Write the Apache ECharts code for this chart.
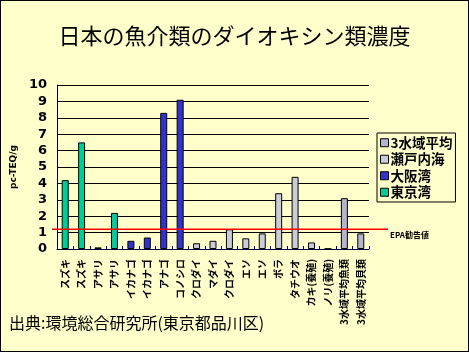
<!DOCTYPE html>
<html>
<head>
<meta charset="utf-8">
<script src="https://cdn.jsdelivr.net/npm/echarts@6/dist/echarts.min.js"></script>
<style>
  html, body { margin: 0; padding: 0; }
  #main { width: 467px; height: 350px; border: 1px solid #000; background: #FFFFCC; }
</style>
</head>
<body>
<div id="main"></div>
<script>
// 魚種ごとの濃度 (pg-TEQ/g)
var categories = ['スズキ', 'スズキ', 'アサリ', 'アサリ', 'イカナゴ', 'イカナゴ', 'アナゴ', 'コノシロ',
  'クロダイ', 'マダイ', 'クロダイ', 'エソ', 'エソ', 'ボラ', 'タチウオ', 'カキ(養殖)', 'ノリ(養殖)',
  '3水域平均魚類', '3水域平均貝類'];
var values = [4.2, 6.5, 0.1, 2.2, 0.5, 0.7, 8.3, 9.1,
  0.35, 0.5, 1.2, 0.65, 0.95, 3.4, 4.4, 0.4, 0.02,
  3.1, 0.95];
var regions = ['東京湾', '東京湾', '東京湾', '東京湾', '大阪湾', '大阪湾', '大阪湾', '大阪湾',
  '瀬戸内海', '瀬戸内海', '瀬戸内海', '瀬戸内海', '瀬戸内海', '瀬戸内海', '瀬戸内海', '瀬戸内海', '瀬戸内海',
  '3水域平均', '3水域平均'];
var regionNames = ['3水域平均', '瀬戸内海', '大阪湾', '東京湾'];
var regionColors = { '3水域平均': '#B4B4CC', '瀬戸内海': '#CCCCD8', '大阪湾': '#3333CC', '東京湾': '#00CC99' };
var epaLimit = 1.2;

var jp = '"Noto Sans CJK JP", sans-serif';

var series = ['東京湾', '大阪湾', '瀬戸内海', '3水域平均'].map(function (r) {
  return {
    name: r,
    type: 'bar',
    barWidth: 7,
    barGap: '-100%',
    itemStyle: { color: regionColors[r], borderColor: '#000', borderWidth: 1 },
    data: values.map(function (v, i) { return regions[i] === r ? v : null; })
  };
});

var chart = echarts.init(document.getElementById('main'));
var option = {
  backgroundColor: '#FFFFCC',
  animation: false,
  title: {
    text: '日本の魚介類のダイオキシン類濃度',
    left: 'center',
    top: 19,
    textStyle: { fontFamily: jp, fontSize: 22, fontWeight: 'normal', color: '#000' }
  },
  legend: {
    orient: 'vertical',
    left: 376,
    top: 132,
    data: regionNames,
    backgroundColor: '#FFFFCC',
    borderColor: '#000',
    borderWidth: 1,
    borderRadius: 0,
    padding: [3, 3, 3, 3],
    itemGap: 3,
    itemWidth: 8,
    itemHeight: 8,
    icon: 'rect',
    itemStyle: { borderColor: '#000', borderWidth: 1 },
    textStyle: { fontFamily: jp, fontSize: 13.5, fontWeight: 'bold', color: '#000', padding: [0, 0, 0, -3] }
  },
  grid: { left: 55, right: 99, top: 84, bottom: 102 },
  xAxis: {
    type: 'category',
    data: categories,
    axisLine: { lineStyle: { color: '#000033', width: 1 } },
    axisTick: { show: true, inside: true, length: 3, lineStyle: { color: '#0000AA' } },
    axisLabel: {
      rotate: 90,
      interval: 0,
      margin: 10,
      fontFamily: jp,
      fontSize: 10,
      fontWeight: 'bold',
      color: '#000'
    }
  },
  yAxis: {
    type: 'value',
    min: 0,
    max: 10,
    interval: 1,
    name: 'pc-TEQ/g',
    nameLocation: 'middle',
    nameGap: 32,
    nameTextStyle: { fontFamily: 'DejaVu Sans', fontSize: 9, fontWeight: 'bold', color: '#000' },
    axisLine: { show: true, lineStyle: { color: '#000033' } },
    axisTick: { show: true, inside: true, length: 4, lineStyle: { color: '#000' } },
    axisLabel: { fontFamily: 'DejaVu Sans', fontSize: 13, fontWeight: 'bold', color: '#000', margin: 10 },
    splitLine: { lineStyle: { color: '#000', width: 1 } }
  },
  series: series
};
chart.setOption(option);

// EPA勧告値の線: 軸のスケールから位置を求める
var yEpa = chart.convertToPixel({ yAxisIndex: 0 }, epaLimit);
chart.setOption({
  graphic: [
    {
      type: 'line',
      z: 100,
      shape: { x1: 51, y1: yEpa, x2: 387, y2: yEpa },
      style: { stroke: '#FF0000', lineWidth: 1.5 }
    },
    {
      type: 'text',
      z: 100,
      x: 389,
      y: yEpa + 2,
      style: { text: 'EPA勧告値', font: 'bold 8px ' + jp, fill: '#000' }
    },
    {
      type: 'text',
      x: 8,
      y: 314,
      style: { text: '出典:環境総合研究所(東京都品川区)', font: '16px ' + jp, fill: '#000' }
    }
  ]
});
</script>
</body>
</html>
